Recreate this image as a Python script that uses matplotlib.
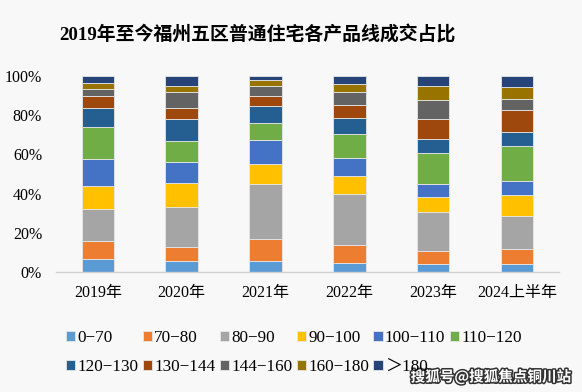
import matplotlib.pyplot as plt
import matplotlib.patheffects as pe
import numpy as np

plt.rcParams['font.family'] = ['Liberation Serif', 'Noto Sans CJK SC']
plt.rcParams['axes.unicode_minus'] = True

# 数据（按图读取的估计值，单位 %）
years = ['2019年', '2020年', '2021年', '2022年', '2023年', '2024上半年']
bands = ['0−70', '70−80', '80−90', '90−100', '100−110', '110−120',
         '120−130', '130−144', '144−160', '160−180', '＞180']
share_0_70 = [6.6, 5.6, 5.6, 4.4, 4.3, 4.1]
share_70_80 = [9.4, 7.2, 11.1, 9.6, 6.6, 7.7]
share_80_90 = [16.2, 20.4, 28.3, 25.9, 19.8, 16.8]
share_90_100 = [11.9, 12.1, 10.0, 9.0, 7.6, 10.6]
share_100_110 = [13.7, 10.9, 12.5, 9.4, 6.7, 7.3]
share_110_120 = [16.3, 10.8, 8.5, 11.9, 15.6, 17.6]
share_120_130 = [9.7, 11.2, 8.8, 8.5, 7.4, 7.1]
share_130_144 = [6.1, 5.6, 4.8, 6.5, 9.9, 11.3]
share_144_160 = [3.6, 7.9, 5.3, 6.8, 9.7, 5.9]
share_160_180 = [2.8, 3.2, 3.1, 3.9, 7.1, 5.8]
share_180_up = [3.7, 5.1, 2.0, 4.1, 5.3, 5.8]

series = [share_0_70, share_70_80, share_80_90, share_90_100, share_100_110,
          share_110_120, share_120_130, share_130_144, share_144_160,
          share_160_180, share_180_up]
colors = ['#5B9BD5', '#ED7D31', '#A5A5A5', '#FFC000', '#4472C4', '#70AD47',
          '#255E91', '#9E480E', '#636363', '#997300', '#264478']

bg = '#f8f8f8'
fig = plt.figure(figsize=(5.82, 3.92), dpi=100, facecolor=bg)
ax = fig.add_axes([0.0962, 0.306, 0.864, 0.500])
ax.set_facecolor(bg)

x = np.arange(len(years))
data = np.array(series, dtype=float)
data = data / data.sum(axis=0)  # 每列归一到 100%
bottom = np.zeros(len(years))
for vals, col, lab in zip(data, colors, bands):
    ax.bar(x, vals, 0.39, bottom=bottom, color=col, label=lab,
           edgecolor='#e6e6e6', linewidth=0.6)
    bottom += vals

ax.set_xlim(-0.5, len(years) - 0.5)
ax.set_ylim(0, 1)
ax.set_yticks(np.arange(0, 1.01, 0.2))
ax.set_yticklabels([f'{int(round(v * 100))}%' for v in np.arange(0, 1.01, 0.2)])
ax.set_xticks(x)
ax.set_xticklabels(years)
ax.tick_params(axis='y', length=0, pad=10, labelsize=11.5)
ax.tick_params(axis='x', length=0, pad=9, labelsize=11.5)

for s in ['top', 'right', 'left']:
    ax.spines[s].set_visible(False)
ax.spines['bottom'].set_color('#d0d0d0')
ax.spines['bottom'].set_linewidth(1.0)

# 标题
fig.text(0.442, 1 - 35 / 392, '2019年至今福州五区普通住宅各产品线成交占比',
         ha='center', va='center', fontsize=13.6, fontweight='bold')

# 图例：按行排列（matplotlib 默认按列填充，所以重排一下）
handles, labels = ax.get_legend_handles_labels()
order = [0, 6, 1, 7, 2, 8, 3, 9, 4, 10, 5]
leg = fig.legend([handles[i] for i in order], [labels[i] for i in order],
                 loc='upper left', ncol=6,
                 bbox_to_anchor=(0.113, 1 - 330 / 392), frameon=False,
                 fontsize=12.3, handlelength=0.55, handleheight=0.55,
                 handletextpad=0.12, columnspacing=0.26, labelspacing=0.75,
                 borderpad=0, borderaxespad=0)

# 右下角水印文字
fig.text(0.982, 1 - 377 / 392, '搜狐号@搜狐焦点铜川站', ha='right', va='center',
         fontsize=10.5, color='white', fontweight='bold',
         family=['Noto Sans CJK SC'],
         path_effects=[pe.withStroke(linewidth=2.2, foreground='#333333')])

fig.savefig('out.png', dpi=100, facecolor=bg)
